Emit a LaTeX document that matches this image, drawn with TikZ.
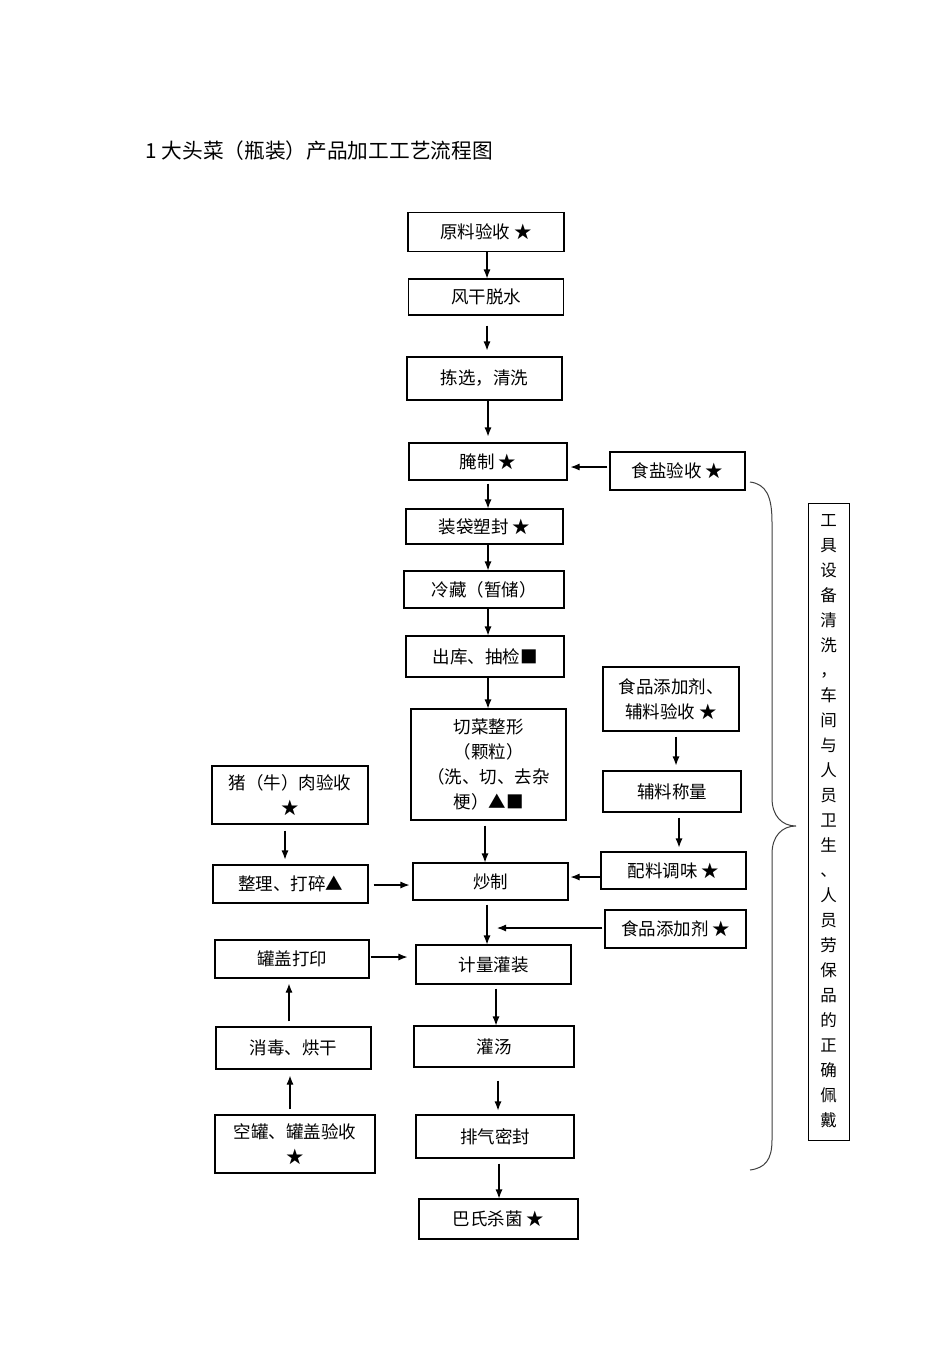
\documentclass[tikz,border=0pt]{standalone}
\usepackage{fontspec}
\setmainfont{Noto Sans CJK SC}
\usetikzlibrary{arrows.meta}
\begin{document}
\begin{tikzpicture}[x=1pt,y=-1pt,
  box/.style={draw, line width=1.1pt, inner sep=0pt, align=center, font=\fontsize{17.5}{25}\selectfont},
  arr/.style={-{Latex[length=9pt,width=7pt]}, line width=1.1pt},
  brace/.style={line width=1pt, draw=black!75}]
\useasboundingbox[fill=white] (0,0) rectangle (950,1345);
\node[anchor=west, font=\fontsize{20.7}{21}\selectfont] (title) at (142,151) {1 大头菜（瓶装）产品加工工艺流程图};

\node[box, minimum width=156pt, minimum height=39pt] (n1) at (486,232) {原料验收 ★};
\node[box, minimum width=155pt, minimum height=36pt] (n2) at (486,297) {风干脱水};
\node[box, minimum width=155pt, minimum height=43pt] (n3) at (484.5,378.5) {拣选，清洗};
\node[box, minimum width=158pt, minimum height=37pt] (n4) at (488,461.5) {腌制 ★};
\node[box, minimum width=135pt, minimum height=38pt] (n5) at (677.5,471) {食盐验收 ★};
\node[box, minimum width=157pt, minimum height=35pt] (n6) at (484.5,526.5) {装袋塑封 ★};
\node[box, minimum width=160pt, minimum height=37pt] (n7) at (484,589.5) {冷藏（暂储）};
\node[box, minimum width=158pt, minimum height=41pt] (n8) at (485,656.5) {出库、抽检■};
\node[box, minimum width=155pt, minimum height=111pt] (n9) at (488.5,764.5) {切菜整形\\（颗粒）\\（洗、切、去杂\\梗）▲■};
\node[box, minimum width=136pt, minimum height=64pt] (n10) at (671,699) {食品添加剂、\\辅料验收 ★};
\node[box, minimum width=138pt, minimum height=41pt] (n11) at (672,791.5) {辅料称量};
\node[box, minimum width=156pt, minimum height=58pt] (n12) at (290,795) {猪（牛）肉验收\\★};
\node[box, minimum width=155pt, minimum height=38pt] (n13) at (290.5,884) {整理、打碎▲};
\node[box, minimum width=155pt, minimum height=37pt] (n14) at (490.5,881.5) {炒制};
\node[box, minimum width=145pt, minimum height=37pt] (n15) at (673.5,870.5) {配料调味 ★};
\node[box, minimum width=141pt, minimum height=38pt] (n16) at (675.5,929) {食品添加剂 ★};
\node[box, minimum width=154pt, minimum height=38pt] (n17) at (292,959) {罐盖打印};
\node[box, minimum width=155pt, minimum height=39pt] (n18) at (493.5,964.5) {计量灌装};
\node[box, minimum width=155pt, minimum height=42pt] (n19) at (293.5,1048) {消毒、烘干};
\node[box, minimum width=160pt, minimum height=41pt] (n20) at (494,1046.5) {灌汤};
\node[box, minimum width=160pt, minimum height=58pt] (n21) at (295,1144) {空罐、罐盖验收\\★};
\node[box, minimum width=158pt, minimum height=43pt] (n22) at (495,1136.5) {排气密封};
\node[box, minimum width=159pt, minimum height=40pt] (n23) at (498.5,1219) {巴氏杀菌 ★};

\node[box, line width=1pt, minimum width=41pt, minimum height=637pt, font=\fontsize{16.5}{25}\selectfont] (side) at (828.5,821.5)
 {工\\具\\设\\备\\清\\洗\\，\\车\\间\\与\\人\\员\\卫\\生\\、\\人\\员\\劳\\保\\品\\的\\正\\确\\佩\\戴};

% main vertical chain
\draw[arr] ([xshift=1pt]n1.south) -- ([xshift=1pt]n1.south |- n2.north);
\draw[arr, shorten <=10pt, shorten >=6pt] ([xshift=1pt]n2.south) -- ([xshift=1pt]n2.south |- n3.north);
\draw[arr, shorten >=6pt] ([xshift=3.5pt]n3.south) -- ([xshift=3.5pt]n3.south |- n4.north);
\draw[arr, shorten <=3pt] (n4.south) -- (n4.south |- n6.north);
\draw[arr] ([xshift=3.5pt]n6.south) -- ([xshift=3.5pt]n6.south |- n7.north);
\draw[arr] ([xshift=4pt]n7.south) -- ([xshift=4pt]n7.south |- n8.north);
\draw[arr] ([xshift=3pt]n8.south) -- ([xshift=3pt]n8.south |- n9.north);
\draw[arr, shorten <=5pt] ([xshift=-3.5pt]n9.south) -- ([xshift=-3.5pt]n9.south |- n14.north);
\draw[arr, shorten <=4pt] ([xshift=-3.5pt]n14.south) -- ([xshift=-3.5pt]n14.south |- n18.north);
\draw[arr, shorten <=4pt] ([xshift=2.5pt]n18.south) -- ([xshift=2.5pt]n18.south |- n20.north);
\draw[arr, shorten <=13pt, shorten >=4pt] ([xshift=4pt]n20.south) -- ([xshift=4pt]n20.south |- n22.north);
\draw[arr, shorten <=5pt] ([xshift=4pt]n22.south) -- ([xshift=4pt]n22.south |- n23.north);

% right branch
\draw[arr, shorten <=5pt, shorten >=5pt] ([xshift=5pt]n10.south) -- ([xshift=5pt]n10.south |- n11.north);
\draw[arr, shorten <=5pt, shorten >=4pt] ([xshift=7pt]n11.south) -- ([xshift=7pt]n11.south |- n15.north);
\draw[arr, shorten <=2pt, shorten >=3pt] ([yshift=4pt]n5.west) -- ([yshift=4pt]n5.west -| n4.east);
\draw[arr, shorten >=2pt] ([yshift=-6.5pt]n15.west) -- ([yshift=-6.5pt]n15.west -| n14.east);
\coordinate (fill) at (497,928);
\draw[arr, shorten <=2pt] ([yshift=1pt]n16.west) -- (fill);

% left branch
\draw[arr, shorten <=6pt, shorten >=5pt] ([xshift=-5pt]n12.south) -- ([xshift=-5pt]n12.south |- n13.north);
\draw[arr, shorten <=5pt, shorten >=3pt] ([yshift=-1pt]n13.east) -- ([yshift=-1pt]n13.east -| n14.west);
\draw[arr, shorten <=1pt, shorten >=8pt] ([yshift=2pt]n17.east) -- ([yshift=2pt]n17.east -| n18.west);
\draw[arr, shorten <=5pt, shorten >=6pt] ([xshift=-5pt]n21.north) -- ([xshift=-5pt]n21.north |- n19.south);
\draw[arr, shorten <=5pt, shorten >=5pt] ([xshift=-4.5pt]n19.north) -- ([xshift=-4.5pt]n19.north |- n17.south);

% brace
\draw[brace] (750,482) .. controls (766,484) and (772,496) .. (772,522) -- (772,798)
  .. controls (772,816) and (782,826) .. (796,826)
  .. controls (782,826) and (772,836) .. (772,854) -- (772,1140)
  .. controls (772,1160) and (765,1168) .. (750,1170);
\end{tikzpicture}
\end{document}
